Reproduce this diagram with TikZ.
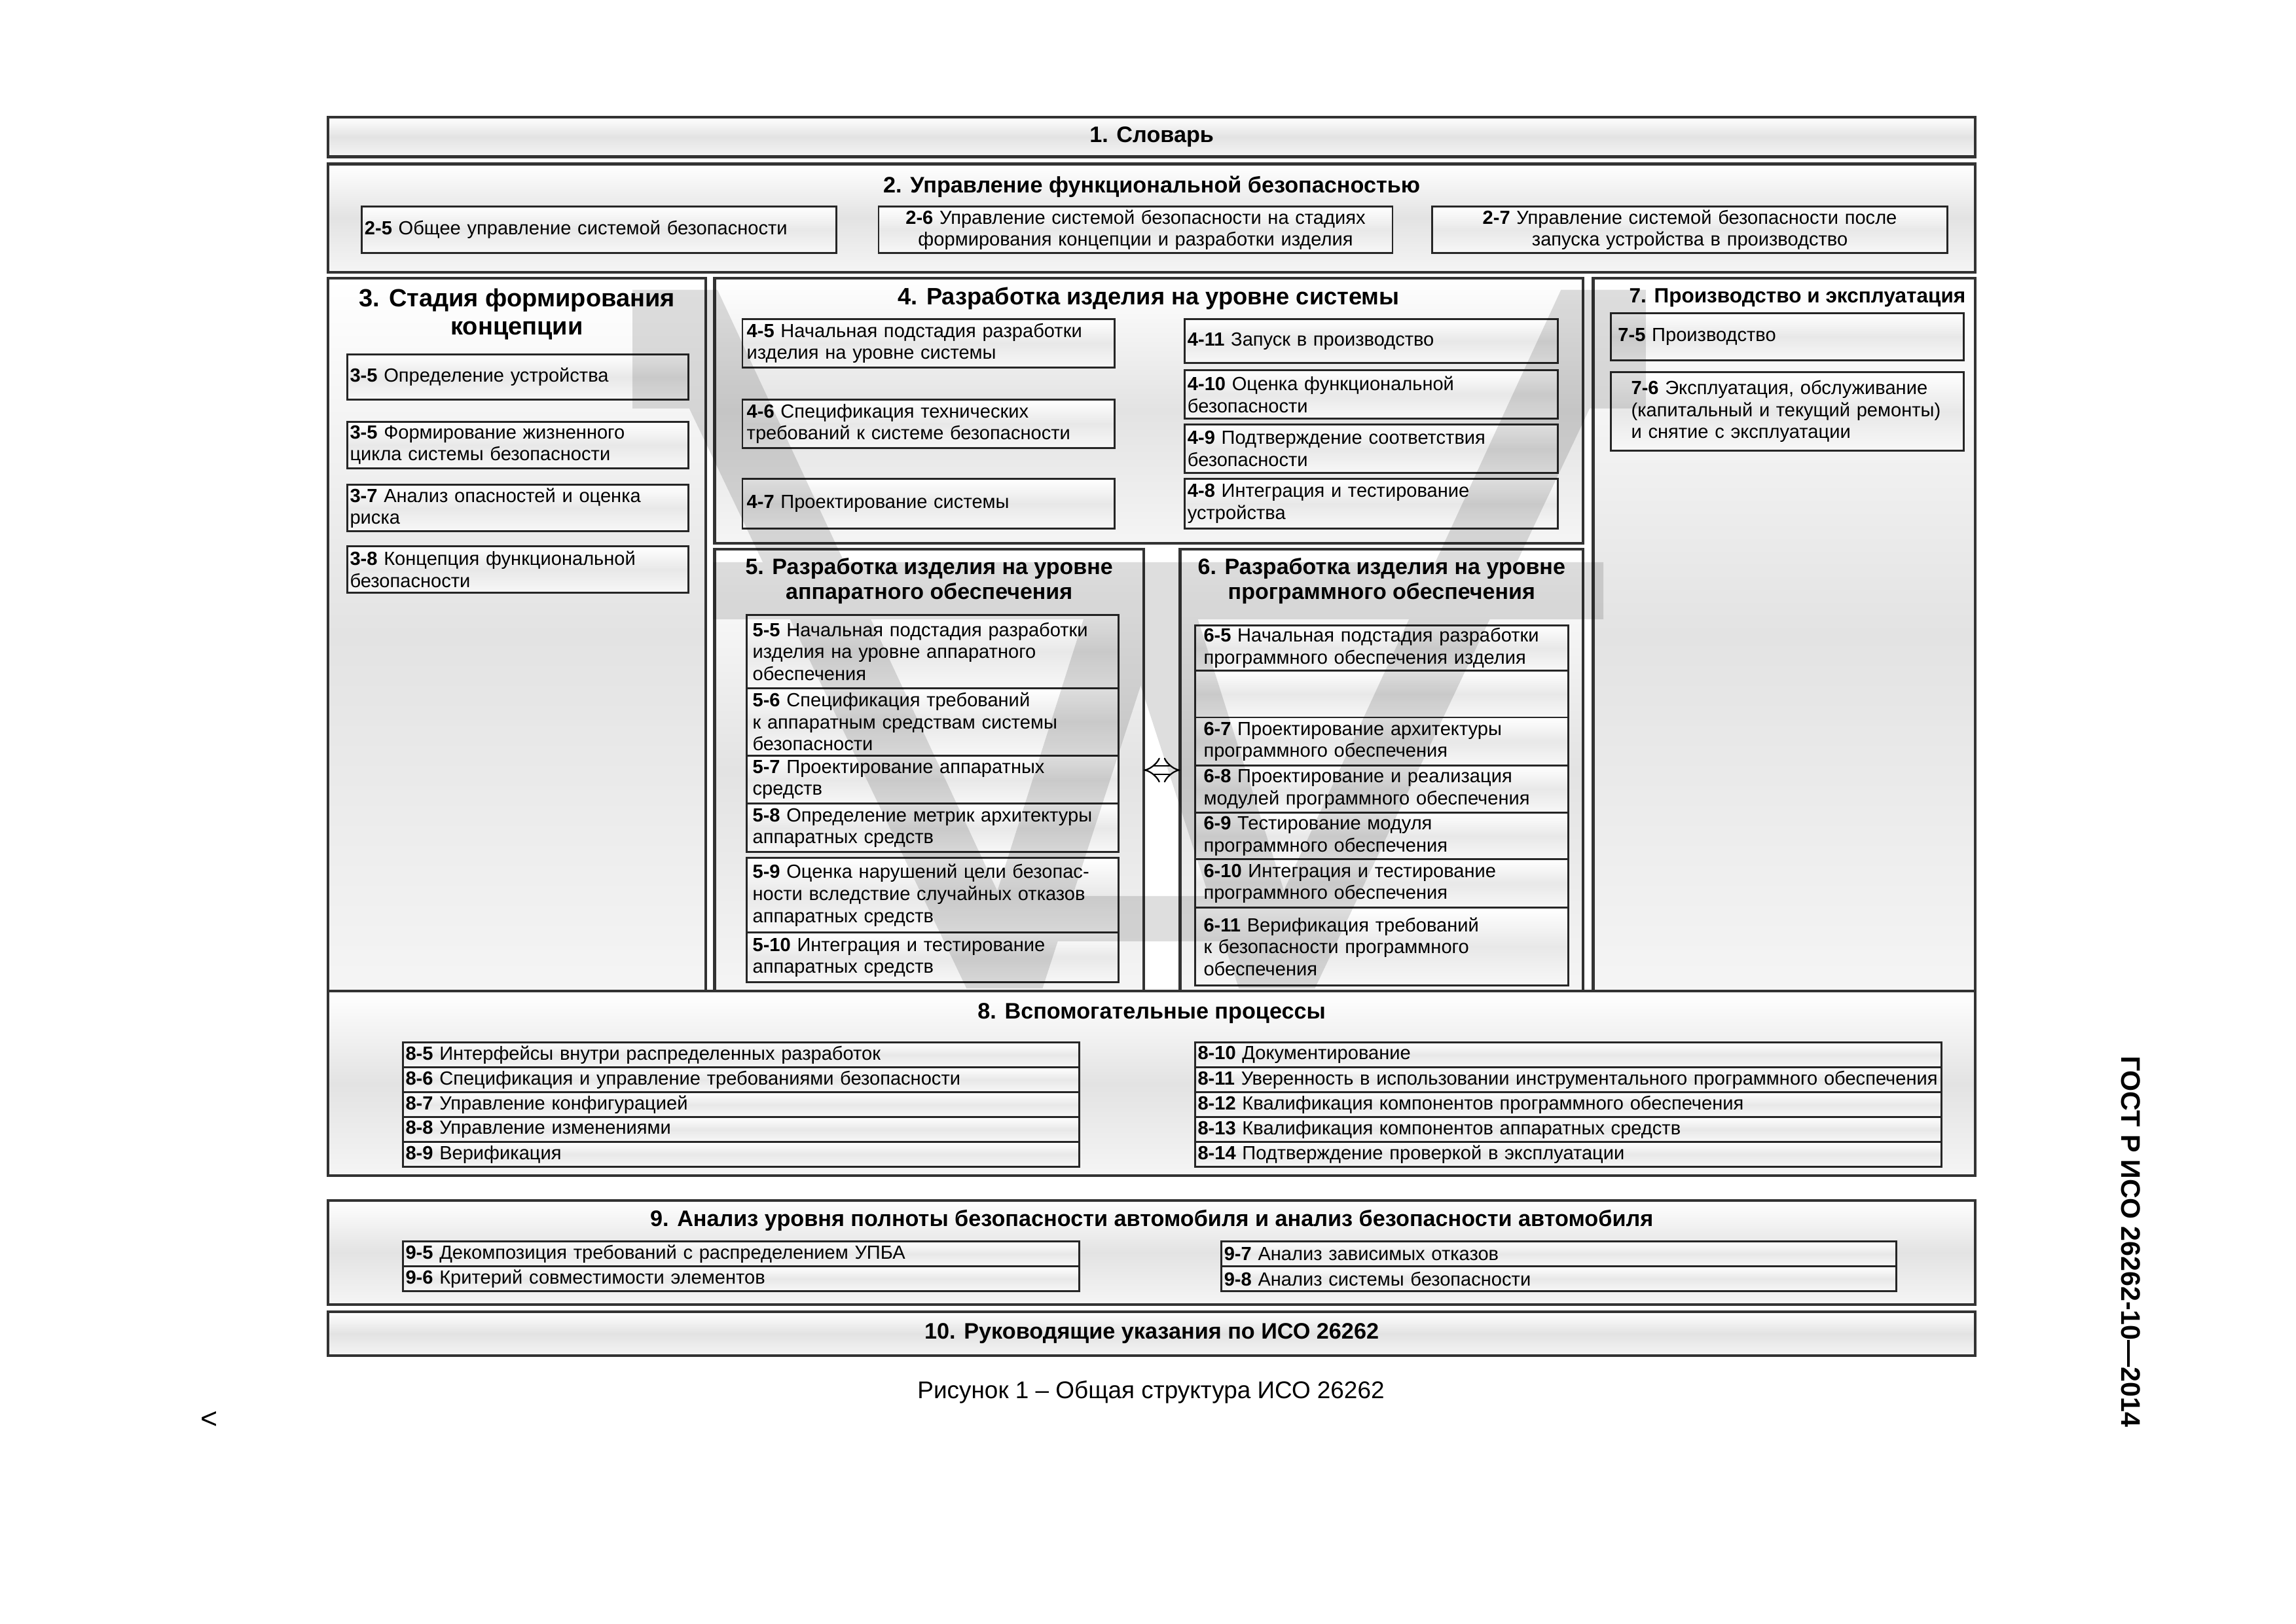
\documentclass[tikz,border=0pt]{standalone}
\usepackage{fontspec}
\setmainfont{Liberation Sans}
\usetikzlibrary{positioning, arrows.meta}
\tikzset{
  partbox/.style={rectangle, draw=black!80, line width=2pt, top color=white, bottom color=black!4, middle color=black!11, inner sep=0pt, outer sep=0pt, anchor=north west},
  parttitle/.style={inner sep=0pt, align=center, font=\bfseries\fontsize{15.3}{17}\selectfont},
  itembox/.style 2 args={rectangle, draw=black!85, line width=1.3pt, top color=white, bottom color=black!3, middle color=black!9, inner xsep=2pt, inner ysep=0pt, outer sep=0pt, anchor=north west, align=left, text width=#1pt, minimum height=#2pt, font=\fontsize{13}{15}\selectfont},
  rowitem/.style={itembox={#1}{17}},
  hwitem/.style={itembox={246}{#1}, inner xsep=4pt},
  switem/.style={itembox={243}{#1}, inner xsep=6pt},
  dblarrow/.style={double, double distance=5pt, line width=1pt, {Implies}-{Implies}},
  watermark/.style={fill=black}
}
\begin{document}
\begin{tikzpicture}[x=1pt, y=-1pt, node distance=0pt]
\useasboundingbox (0,0) rectangle (1568,1109);

% 1. vocabulary
\node (vocab) [partbox, parttitle, minimum width=1125pt, minimum height=27pt] at (224,80) {1. Словарь};

% 2. functional safety management
\node (mgmt) [partbox, minimum width=1125pt, minimum height=74pt] at (224,112) {};
\node (mgmttitle) [parttitle, below=8pt of mgmt.north] {2. Управление функциональной безопасностью};
\node (m25) [itembox={320}{32}] at (247,141) {\textbf{2-5} Общее управление системой безопасности};
\node (m26) [itembox={347}{32}, align=center, right=29pt of m25] {\textbf{2-6} Управление системой безопасности на стадиях\\формирования концепции и разработки изделия};
\node (m27) [itembox={348}{32}, align=center, right=27pt of m26] {\textbf{2-7} Управление системой безопасности после\\запуска устройства в производство};

% 3. concept phase
\node (concept) [partbox, minimum width=258pt, minimum height=487pt] at (224,190) {};
\node (concepttitle) [parttitle, font=\bfseries\fontsize{17}{19}\selectfont, below=7pt of concept.north] {3. Стадия формирования\\концепции};
\node (c35a) [itembox={229}{31}] at (237,242) {\textbf{3-5} Определение устройства};
\node (c35b) [itembox={229}{32}, below=15pt of c35a] {\textbf{3-5} Формирование жизненного\\цикла системы безопасности};
\node (c37) [itembox={229}{32}, below=11pt of c35b] {\textbf{3-7} Анализ опасностей и оценка\\риска};
\node (c38) [itembox={229}{32}, below=10pt of c37] {\textbf{3-8} Концепция функциональной\\безопасности};

% 4. system level
\node (system) [partbox, minimum width=593pt, minimum height=181pt] at (488,190) {};
\node (systemtitle) [parttitle, font=\bfseries\fontsize{16.2}{18}\selectfont, below=6pt of system.north] {4. Разработка изделия на уровне системы};
\node (s45) [itembox={248}{33}, inner xsep=3pt] at (507,218) {\textbf{4-5} Начальная подстадия разработки\\изделия на уровне системы};
\node (s46) [itembox={248}{33}, inner xsep=3pt, below=22pt of s45] {\textbf{4-6} Спецификация технических\\требований к системе безопасности};
\node (s47) [itembox={248}{34}, inner xsep=3pt, below=21pt of s46] {\textbf{4-7} Проектирование системы};
\node (s411) [itembox={251}{30}] at (809,218) {\textbf{4-11} Запуск в производство};
\node (s410) [itembox={251}{33}, below=5pt of s411] {\textbf{4-10} Оценка функциональной\\безопасности};
\node (s49) [itembox={251}{33}, below=4pt of s410] {\textbf{4-9} Подтверждение соответствия\\безопасности};
\node (s48) [itembox={251}{34}, below=4pt of s49] {\textbf{4-8} Интеграция и тестирование\\устройства};

% 7. production and operation
\node (prod) [partbox, minimum width=261pt, minimum height=487pt] at (1088,190) {};
\node (prodtitle) [parttitle, font=\bfseries\fontsize{14.1}{17}\selectfont, below=7pt of prod.north, xshift=9pt] {7. Производство и эксплуатация};
\node (p75) [itembox={231}{32}, inner xsep=5pt] at (1100,214) {\textbf{7-5} Производство};
\node (p76) [itembox={213}{54}, inner xsep=14pt, below=8pt of p75] {\textbf{7-6} Эксплуатация, обслуживание\\(капитальный и текущий ремонты)\\и снятие с эксплуатации};

% 5. hardware level
\node (hw) [partbox, minimum width=293pt, minimum height=302pt] at (488,375) {};
\node (hwtitle) [parttitle, font=\bfseries\fontsize{15.2}{17}\selectfont, below=6pt of hw.north] {5. Разработка изделия на уровне\\аппаратного обеспечения};
\node (h55) [hwitem=50] at (510,420) {\textbf{5-5} Начальная подстадия разработки\\изделия на уровне аппаратного\\обеспечения};
\node (h56) [hwitem=46, below=of h55] {\textbf{5-6} Спецификация требований\\к аппаратным средствам системы\\безопасности};
\node (h57) [hwitem=33, below=of h56] {\textbf{5-7} Проектирование аппаратных\\средств};
\node (h58) [hwitem=33, below=of h57] {\textbf{5-8} Определение метрик архитектуры\\аппаратных средств};
\node (h59) [hwitem=51, below=4pt of h58] {\textbf{5-9} Оценка нарушений цели безопас-\\ности вследствие случайных отказов\\аппаратных средств};
\node (h510) [hwitem=34, below=of h59] {\textbf{5-10} Интеграция и тестирование\\аппаратных средств};

% 6. software level
\node (sw) [partbox, minimum width=275pt, minimum height=302pt] at (806,375) {};
\node (swtitle) [parttitle, font=\bfseries\fontsize{15.2}{17}\selectfont, below=6pt of sw.north] {6. Разработка изделия на уровне\\программного обеспечения};
\node (w65) [switem=31] at (816,427) {\textbf{6-5} Начальная подстадия разработки\\программного обеспечения изделия};
\node (w66) [switem=32, below=of w65] {};
\node (w67) [switem=33, below=of w66] {\textbf{6-7} Проектирование архитектуры\\программного обеспечения};
\node (w68) [switem=32, below=of w67] {\textbf{6-8} Проектирование и реализация\\модулей программного обеспечения};
\node (w69) [switem=32, below=of w68] {\textbf{6-9} Тестирование модуля\\программного обеспечения};
\node (w610) [switem=33, below=of w69] {\textbf{6-10} Интеграция и тестирование\\программного обеспечения};
\node (w611) [switem=53, below=of w610] {\textbf{6-11} Верификация требований\\к безопасности программного\\обеспечения};

\draw [dblarrow] (hw.east) -- (sw.west);

% 8. supporting processes
\node (support) [partbox, minimum width=1125pt, minimum height=126pt] at (224,677) {};
\node (supporttitle) [parttitle, below=8pt of support.north] {8. Вспомогательные процессы};
\node (r85) [rowitem=458] at (275,712) {\textbf{8-5} Интерфейсы внутри распределенных разработок};
\node (r86) [rowitem=458, below=of r85] {\textbf{8-6} Спецификация и управление требованиями безопасности};
\node (r87) [rowitem=458, below=of r86] {\textbf{8-7} Управление конфигурацией};
\node (r88) [rowitem=458, below=of r87] {\textbf{8-8} Управление изменениями};
\node (r89) [rowitem=458, below=of r88] {\textbf{8-9} Верификация};
\node (r810) [rowitem=506] at (816,712) {\textbf{8-10} Документирование};
\node (r811) [rowitem=506, below=of r810] {\textbf{8-11} Уверенность в использовании инструментального программного обеспечения};
\node (r812) [rowitem=506, below=of r811] {\textbf{8-12} Квалификация компонентов программного обеспечения};
\node (r813) [rowitem=506, below=of r812] {\textbf{8-13} Квалификация компонентов аппаратных средств};
\node (r814) [rowitem=506, below=of r813] {\textbf{8-14} Подтверждение проверкой в эксплуатации};

% 9. ASIL-oriented and safety-oriented analyses
\node (asil) [partbox, minimum width=1125pt, minimum height=71pt] at (224,820) {};
\node (asiltitle) [parttitle, below=6pt of asil.north] {9. Анализ уровня полноты безопасности автомобиля и анализ безопасности автомобиля};
\node (a95) [rowitem=458] at (275,848) {\textbf{9-5} Декомпозиция требований с распределением УПБА};
\node (a96) [rowitem=458, below=of a95] {\textbf{9-6} Критерий совместимости элементов};
\node (a97) [rowitem=457] at (834,848) {\textbf{9-7} Анализ зависимых отказов};
\node (a98) [rowitem=457, below=of a97] {\textbf{9-8} Анализ системы безопасности};

% 10. guideline
\node (guide) [partbox, parttitle, minimum width=1125pt, minimum height=30pt] at (224,896) {10. Руководящие указания по ИСО 26262};

\node (caption) [font=\fontsize{16.5}{18}\selectfont] at (786,951) {Рисунок 1 – Общая структура ИСО 26262};
\node (stray) [font=\fontsize{20}{22}\selectfont] at (143,970) {<};
\node (gost) [rotate=-90, font=\bfseries\fontsize{18.4}{20}\selectfont] at (1455,848) {ГОСТ Р ИСО 26262-10—2014};

% grey W watermark over the middle
\begin{scope}[transparency group, opacity=0.13]
  \fill [watermark] (432,198) rectangle (490,279);
  \fill [watermark] (1066,198) rectangle (1124,279);
  \fill [watermark] (487,384) rectangle (1095,423);
  \fill [watermark] (722,612) rectangle (904,643);
  \fill [watermark] (432,198) -- (490,198) -- (712,675) -- (660,675) -- cycle;
  \fill [watermark] (660,675) -- (712,675) -- (806,385) -- (752,385) -- cycle;
  \fill [watermark] (846,675) -- (898,675) -- (806,385) -- (752,385) -- cycle;
  \fill [watermark] (1066,198) -- (1124,198) -- (898,675) -- (846,675) -- cycle;
\end{scope}

\end{tikzpicture}
\end{document}
